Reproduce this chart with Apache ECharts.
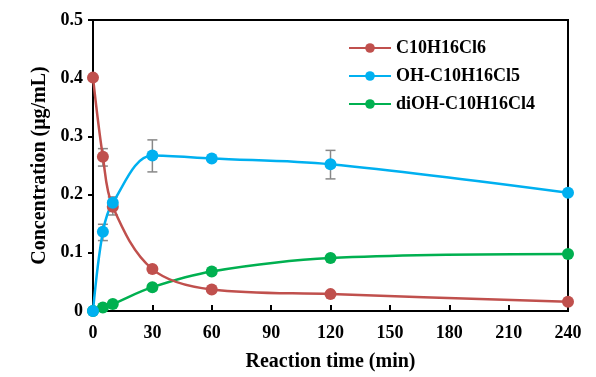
<!DOCTYPE html>
<html>
<head>
<meta charset="utf-8">
<script src="https://cdn.jsdelivr.net/npm/echarts@6/dist/echarts.min.js"></script>
<style>
  html, body { margin: 0; padding: 0; background: #fff; }
  #chart { width: 596px; height: 377px; }
</style>
</head>
<body>
<div id="chart"></div>
<script>
// reaction time (min)
const times = [0, 5, 10, 30, 60, 120, 240];
const xTicks = [0, 30, 60, 90, 120, 150, 180, 210, 240];

const parentVals = [0.401, 0.265, 0.179, 0.072, 0.037, 0.029, 0.016];
const ohVals = [0.0, 0.136, 0.186, 0.267, 0.262, 0.252, 0.203];
const diohVals = [0.0, 0.006, 0.012, 0.041, 0.068, 0.091, 0.098];

// error bars: [time, low, high]
const errBars = [
  [5, 0.249, 0.279],
  [10, 0.165, 0.19],
  [5, 0.121, 0.149],
  [10, 0.176, 0.196],
  [30, 0.239, 0.294],
  [120, 0.227, 0.276]
];

const font = "'Liberation Serif', 'Times New Roman', serif";
const red = "#C0504D", blue = "#00B0F0", green = "#00B050";

const chart = echarts.init(document.getElementById("chart"));

const lineSeries = (name, vals, color) => ({
  name: name,
  type: "line",
  smooth: 0.35,
  data: times.map((t, i) => [t, vals[i]]),
  symbol: "circle",
  symbolSize: 12,
  z: 3,
  lineStyle: { color: color, width: 2.5 },
  itemStyle: { color: color }
});

const option = {
  animation: false,
  grid: { left: 93, right: 28, top: 20, bottom: 66, show: true, borderColor: "#000", borderWidth: 2 },
  legend: {
    orient: "vertical",
    left: 343,
    top: 34,
    itemGap: 10,
    itemWidth: 42,
    itemHeight: 12,
    textStyle: { fontFamily: font, fontWeight: "bold", fontSize: 18, color: "#000" },
    data: ["C10H16Cl6", "OH-C10H16Cl5", "diOH-C10H16Cl4"]
  },
  xAxis: {
    type: "value",
    min: 0,
    max: 240,
    interval: 30,
    name: "Reaction time (min)",
    nameLocation: "middle",
    nameGap: 41,
    nameTextStyle: { fontFamily: font, fontWeight: "bold", fontSize: 20, color: "#000" },
    axisLine: { show: true, lineStyle: { color: "#000", width: 2 } },
    axisTick: { show: true, inside: true, length: 6, lineStyle: { color: "#000", width: 2 } },
    axisLabel: {
      fontFamily: font, fontWeight: "bold", fontSize: 18, color: "#000", margin: 13,
      formatter: v => xTicks.includes(v) ? String(v) : ""
    },
    splitLine: { show: false }
  },
  yAxis: {
    type: "value",
    min: 0,
    max: 0.5,
    interval: 0.1,
    name: "Concentration (μg/mL)",
    nameLocation: "middle",
    nameGap: 43,
    nameTextStyle: { fontFamily: font, fontWeight: "bold", fontSize: 20, color: "#000" },
    axisLine: { show: true, lineStyle: { color: "#000", width: 2 } },
    axisTick: { show: true, inside: false, length: 5, lineStyle: { color: "#000", width: 2 } },
    axisLabel: { fontFamily: font, fontWeight: "bold", fontSize: 18, color: "#000", margin: 10 },
    splitLine: { show: false }
  },
  series: [
    {
      type: "custom",
      z: 2,
      silent: true,
      data: errBars,
      renderItem: (params, api) => {
        const x = api.value(0);
        const lo = api.coord([x, api.value(1)]);
        const hi = api.coord([x, api.value(2)]);
        const cap = 5;
        const style = { stroke: "#888", lineWidth: 1.5 };
        return {
          type: "group",
          children: [
            { type: "line", shape: { x1: lo[0], y1: lo[1], x2: hi[0], y2: hi[1] }, style: style },
            { type: "line", shape: { x1: lo[0] - cap, y1: lo[1], x2: lo[0] + cap, y2: lo[1] }, style: style },
            { type: "line", shape: { x1: hi[0] - cap, y1: hi[1], x2: hi[0] + cap, y2: hi[1] }, style: style }
          ]
        };
      }
    },
    lineSeries("diOH-C10H16Cl4", diohVals, green),
    lineSeries("C10H16Cl6", parentVals, red),
    lineSeries("OH-C10H16Cl5", ohVals, blue)
  ]
};

chart.setOption(option);
</script>
</body>
</html>
